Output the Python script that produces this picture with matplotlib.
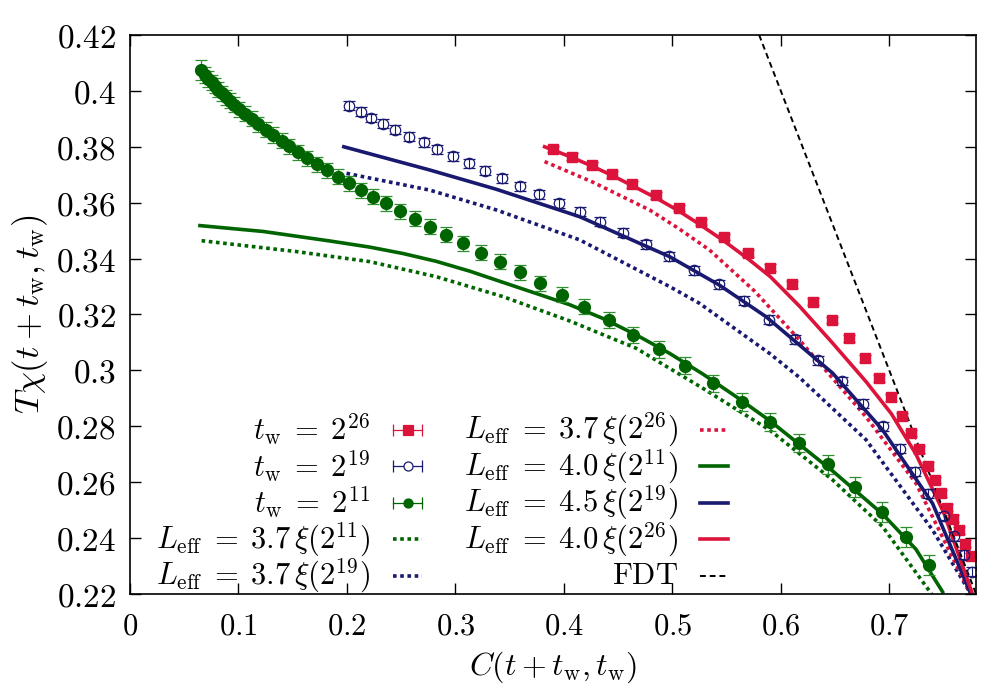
"""
Response vs correlation: Tchi(t+tw, tw) against C(t+tw, tw) for three waiting times,
with the L_eff predictions and the FDT line.
"""

import matplotlib
matplotlib.use("Agg")
import matplotlib.pyplot as plt
from matplotlib.ticker import FixedLocator, FuncFormatter

plt.rcParams["mathtext.fontset"] = "cm"
plt.rcParams["font.family"] = ["DejaVu Serif"]

GREEN = "#006400"
BLUE = "#191970"
RED = "#dc143c"

# ---- data: t_w = 2^11 (filled green circles)
c_tw11 = [0.0654, 0.0691, 0.0721, 0.0753, 0.0783, 0.0813, 0.0845, 0.0881, 0.0918, 0.0958,
          0.1004, 0.1059, 0.1121, 0.1182, 0.1250, 0.1314, 0.1397, 0.1467, 0.1550, 0.1633,
          0.1722, 0.1814, 0.1913, 0.2017, 0.2130, 0.2241, 0.2364, 0.2493, 0.2628, 0.2766,
          0.2917, 0.3074, 0.3239, 0.3408, 0.3592, 0.3783, 0.3982, 0.4182, 0.4412, 0.4636,
          0.4877, 0.5121, 0.5379, 0.5639, 0.5897, 0.6165, 0.6432, 0.6687, 0.6933, 0.7154,
          0.7362]
t_tw11 = [0.4075, 0.4057, 0.4043, 0.4031, 0.4019, 0.4004, 0.3991, 0.3977, 0.3964, 0.3950,
          0.3934, 0.3918, 0.3900, 0.3880, 0.3861, 0.3842, 0.3821, 0.3802, 0.3780, 0.3759,
          0.3737, 0.3716, 0.3693, 0.3670, 0.3645, 0.3621, 0.3598, 0.3570, 0.3542, 0.3514,
          0.3486, 0.3455, 0.3421, 0.3388, 0.3351, 0.3312, 0.3271, 0.3228, 0.3180, 0.3128,
          0.3076, 0.3017, 0.2954, 0.2888, 0.2816, 0.2741, 0.2665, 0.2582, 0.2494, 0.2403,
          0.2305]
e_tw11 = [0.0037, 0.0030, 0.0028, 0.0027, 0.0027, 0.0027, 0.0027, 0.0027, 0.0027, 0.0027,
          0.0027, 0.0027, 0.0027, 0.0027, 0.0027, 0.0027, 0.0027, 0.0027, 0.0027, 0.0027,
          0.0027, 0.0027, 0.0027, 0.0027, 0.0027, 0.0027, 0.0027, 0.0027, 0.0027, 0.0027,
          0.0027, 0.0027, 0.0027, 0.0027, 0.0027, 0.0027, 0.0027, 0.0027, 0.0028, 0.0029,
          0.0030, 0.0030, 0.0031, 0.0032, 0.0032, 0.0033, 0.0034, 0.0035, 0.0036, 0.0036,
          0.0036]

# ---- data: t_w = 2^19 (open blue circles)
c_tw19 = [0.2017, 0.2125, 0.2226, 0.2333, 0.2447, 0.2573, 0.2708, 0.2834, 0.2975, 0.3122,
          0.3270, 0.3426, 0.3592, 0.3767, 0.3951, 0.4145, 0.4329, 0.4544, 0.4759, 0.4971,
          0.5201, 0.5434, 0.5660, 0.5890, 0.6134, 0.6346, 0.6564, 0.6756, 0.6940, 0.7101,
          0.7236, 0.7359, 0.7503, 0.7601, 0.7690, 0.7760]
t_tw19 = [0.3946, 0.3925, 0.3903, 0.3883, 0.3861, 0.3836, 0.3816, 0.3791, 0.3766, 0.3741,
          0.3714, 0.3687, 0.3659, 0.3630, 0.3598, 0.3568, 0.3532, 0.3493, 0.3452, 0.3409,
          0.3359, 0.3308, 0.3249, 0.3181, 0.3111, 0.3037, 0.2962, 0.2880, 0.2800, 0.2719,
          0.2637, 0.2559, 0.2479, 0.2406, 0.2340, 0.2280]
e_tw19 = [0.0016] * len(c_tw19)

# ---- data: t_w = 2^26 (filled red squares)
c_tw26 = [0.3899, 0.4074, 0.4258, 0.4442, 0.4630, 0.4845, 0.5057, 0.5268, 0.5480, 0.5695,
          0.5904, 0.6104, 0.6294, 0.6472, 0.6632, 0.6776, 0.6908, 0.7019, 0.7115, 0.7203,
          0.7272, 0.7357, 0.7417, 0.7476, 0.7532, 0.7590, 0.7641, 0.7697, 0.7757]
t_tw26 = [0.3792, 0.3765, 0.3735, 0.3702, 0.3666, 0.3626, 0.3581, 0.3531, 0.3477, 0.3419,
          0.3367, 0.3308, 0.3246, 0.3180, 0.3115, 0.3043, 0.2971, 0.2903, 0.2837, 0.2776,
          0.2717, 0.2659, 0.2608, 0.2560, 0.2509, 0.2470, 0.2428, 0.2380, 0.2336]
e_tw26 = [0.0012] * len(c_tw26)

# ---- L_eff curves
c_37_11 = [0.0660, 0.1535, 0.2211, 0.2825, 0.3438, 0.4053, 0.4667, 0.5281, 0.5895, 0.6478,
           0.6938, 0.7390]
t_37_11 = [0.3464, 0.3425, 0.3389, 0.3335, 0.3264, 0.3177, 0.3079, 0.2936, 0.2787, 0.2608,
           0.2441, 0.2200]

c_40_11 = [0.0645, 0.1228, 0.1842, 0.2211, 0.2518, 0.2825, 0.3132, 0.3438, 0.3746, 0.4053,
           0.4359, 0.4667, 0.4974, 0.5281, 0.5588, 0.5895, 0.6478, 0.6938, 0.7246, 0.7491]
t_40_11 = [0.3518, 0.3497, 0.3463, 0.3441, 0.3418, 0.3390, 0.3355, 0.3315, 0.3275, 0.3235,
           0.3186, 0.3127, 0.3061, 0.2987, 0.2906, 0.2821, 0.2640, 0.2486, 0.2360, 0.2208]

c_37_19 = [0.1996, 0.2763, 0.3377, 0.4145, 0.4974, 0.5250, 0.5895, 0.6171, 0.6785, 0.7399,
           0.7752]
t_37_19 = [0.3705, 0.3645, 0.3574, 0.3467, 0.3300, 0.3240, 0.3061, 0.2975, 0.2752, 0.2429,
           0.2200]

c_45_19 = [0.1971, 0.2763, 0.3377, 0.4145, 0.4974, 0.5434, 0.5864, 0.6478, 0.6938, 0.7399,
           0.7752]
t_45_19 = [0.3800, 0.3717, 0.3648, 0.3550, 0.3407, 0.3305, 0.3192, 0.2990, 0.2787, 0.2524,
           0.2200]

c_37_26 = [0.3822, 0.4258, 0.4790, 0.5057, 0.5342, 0.5760, 0.6171, 0.6785, 0.7246, 0.7750]
t_37_26 = [0.3747, 0.3675, 0.3574, 0.3508, 0.3431, 0.3283, 0.3109, 0.2834, 0.2596, 0.2200]

c_40_26 = [0.3822, 0.4074, 0.4258, 0.4442, 0.4630, 0.4845, 0.5057, 0.5268, 0.5480, 0.5695,
           0.5904, 0.6171, 0.6472, 0.6785, 0.7019, 0.7246, 0.7503, 0.7767]
t_40_26 = [0.3800, 0.3762, 0.3731, 0.3698, 0.3661, 0.3618, 0.3571, 0.3518, 0.3462, 0.3400,
           0.3335, 0.3230, 0.3100, 0.2960, 0.2845, 0.2700, 0.2490, 0.2200]

c_fdt = [0.58, 0.78]
t_fdt = [0.42, 0.22]

x_ticks = [0, 0.1, 0.2, 0.3, 0.4, 0.5, 0.6, 0.7]
y_ticks = [0.22, 0.24, 0.26, 0.28, 0.30, 0.32, 0.34, 0.36, 0.38, 0.40, 0.42]

fig = plt.figure(figsize=(9.97, 6.98), dpi=100)
ax = fig.add_axes([0.1304, 0.149, 0.979 - 0.1304, 0.9499 - 0.149])

LW = 2.6
DOT = (0, (1, 1))
DASH = (0, (3, 2))

ax.plot(c_37_11, t_37_11, color=GREEN, lw=LW, ls=DOT)
ax.plot(c_37_19, t_37_19, color=BLUE, lw=LW, ls=DOT)
ax.plot(c_37_26, t_37_26, color=RED, lw=LW, ls=DOT)
ax.plot(c_40_11, t_40_11, color=GREEN, lw=LW)
ax.plot(c_45_19, t_45_19, color=BLUE, lw=LW)
ax.plot(c_40_26, t_40_26, color=RED, lw=LW)
ax.plot(c_fdt, t_fdt, color="black", lw=1.4, ls=DASH)

ax.errorbar(c_tw26, t_tw26, yerr=e_tw26, fmt="s", color=RED, ms=7.5, capsize=4, elinewidth=0.8)
ax.errorbar(c_tw19, t_tw19, yerr=e_tw19, fmt="o", color=BLUE, mfc="none", ms=7.5, mew=0.9,
            capsize=4, elinewidth=0.8, capthick=0.8)
ax.errorbar(c_tw11, t_tw11, yerr=e_tw11, fmt="o", color=GREEN, ecolor="#2f8f2f", ms=8.5,
            capsize=4.5, elinewidth=0.9, capthick=0.9)

ax.set_xlim(0, 0.78)
ax.set_ylim(0.22, 0.42)
ax.xaxis.set_major_locator(FixedLocator(x_ticks))
ax.yaxis.set_major_locator(FixedLocator(y_ticks))
ax.xaxis.set_major_formatter(FuncFormatter(lambda v, p: "$%g$" % round(v, 2)))
ax.yaxis.set_major_formatter(FuncFormatter(lambda v, p: "$%g$" % round(v, 2)))
ax.tick_params(direction="in", length=8, width=1, top=True, right=True)
ax.tick_params(axis="y", labelsize=24, pad=10)
ax.tick_params(axis="x", labelsize=22, pad=12)
for s in ax.spines.values():
    s.set_linewidth(1.2)

ax.set_xlabel(r"$C(t + t_{\rm w}, t_{\rm w})$", fontsize=23, labelpad=6)
ax.set_ylabel(r"$T\chi(t + t_{\rm w}, t_{\rm w})$", fontsize=25, labelpad=4)

# ---- gnuplot style key, drawn by hand (right-aligned text, sample on the right)
rows = [0.2934, 0.2281, 0.1628, 0.0975, 0.0322]
col_text = [0.2837, 0.6478]
col_h = [(0.3109, 0.3452), (0.6738, 0.7069)]


def key_text(col, row, label):
    ax.text(col_text[col], rows[row], label, transform=ax.transAxes, ha="right",
            va="center", fontsize=22)


def key_line(col, row, color, ls, lw):
    x0, x1 = col_h[col]
    ax.plot([x0, x1], [rows[row]] * 2, color=color, ls=ls, lw=lw, transform=ax.transAxes,
            clip_on=False)


def key_err(col, row, color, marker, ms, mfc):
    x0, x1 = col_h[col]
    y = rows[row]
    ax.plot([x0, x1], [y, y], color=color, lw=0.9, transform=ax.transAxes, clip_on=False)
    ax.plot([x0, x1], [y, y], ls="none", marker="|", ms=8, mew=0.9, color=color,
            transform=ax.transAxes, clip_on=False)
    ax.plot([(x0 + x1) / 2], [y], ls="none", marker=marker, ms=ms, color=color, mfc=mfc,
            mew=0.9, transform=ax.transAxes, clip_on=False)


key_text(0, 0, r"$t_{\rm w}\;=\;2^{26}$")
key_err(0, 0, RED, "s", 6.5, RED)
key_text(0, 1, r"$t_{\rm w}\;=\;2^{19}$")
key_err(0, 1, BLUE, "o", 6.5, "white")
key_text(0, 2, r"$t_{\rm w}\;=\;2^{11}$")
key_err(0, 2, GREEN, "o", 6.5, GREEN)
key_text(0, 3, r"$L_{\rm eff}\;=\;3.7\,\xi(2^{11})$")
key_line(0, 3, GREEN, DOT, LW)
key_text(0, 4, r"$L_{\rm eff}\;=\;3.7\,\xi(2^{19})$")
key_line(0, 4, BLUE, DOT, LW)

key_text(1, 0, r"$L_{\rm eff}\;=\;3.7\,\xi(2^{26})$")
key_line(1, 0, RED, DOT, LW)
key_text(1, 1, r"$L_{\rm eff}\;=\;4.0\,\xi(2^{11})$")
key_line(1, 1, GREEN, "-", LW)
key_text(1, 2, r"$L_{\rm eff}\;=\;4.5\,\xi(2^{19})$")
key_line(1, 2, BLUE, "-", LW)
key_text(1, 3, r"$L_{\rm eff}\;=\;4.0\,\xi(2^{26})$")
key_line(1, 3, RED, "-", LW)
key_text(1, 4, r"$\mathrm{FDT}$")
key_line(1, 4, "black", DASH, 1.4)

fig.savefig("out.png", dpi=100)
